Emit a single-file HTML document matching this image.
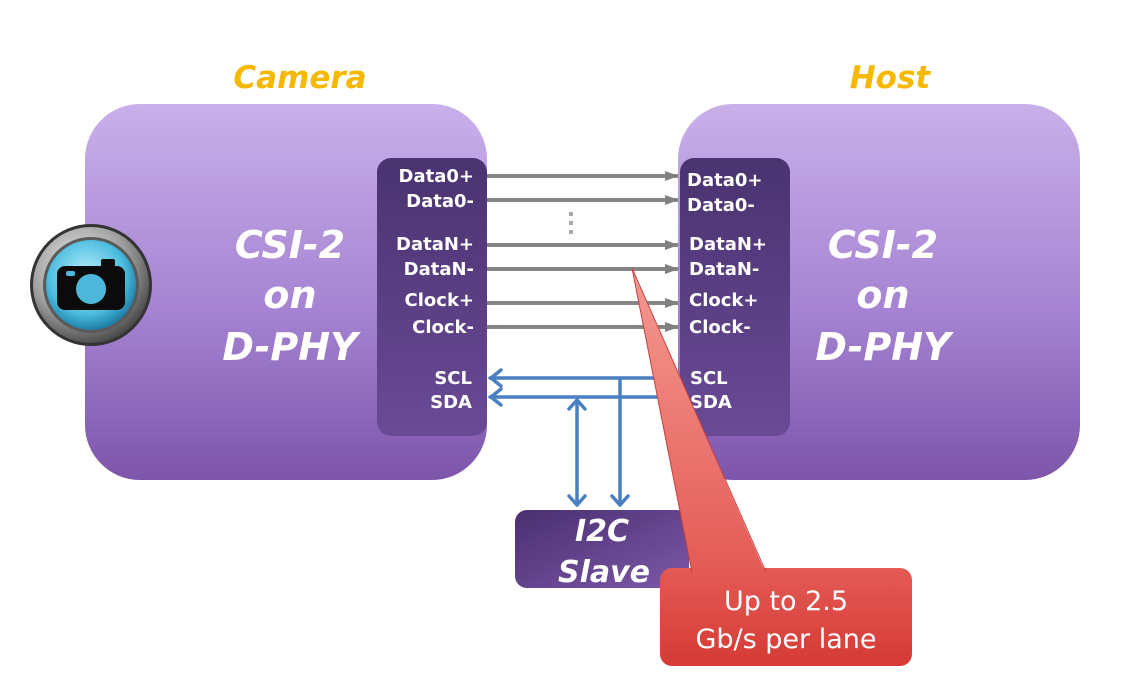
<!DOCTYPE html>
<html><head><meta charset="utf-8"><style>
html,body{margin:0;padding:0;background:#fff;width:1123px;height:697px;overflow:hidden}
svg{display:block}
text{font-family:"DejaVu Sans","Liberation Sans",sans-serif}
</style></head><body>
<svg width="1123" height="697" viewBox="0 0 1123 697" xmlns="http://www.w3.org/2000/svg">
<defs>
<linearGradient id="blk" x1="0" y1="0" x2="0" y2="1">
<stop offset="0" stop-color="#c9b0ea"/><stop offset="0.55" stop-color="#a583d2"/><stop offset="1" stop-color="#7d55aa"/>
</linearGradient>
<linearGradient id="pnl" x1="0" y1="0" x2="0" y2="1">
<stop offset="0" stop-color="#4a3370"/><stop offset="1" stop-color="#6a4a96"/>
</linearGradient>
<linearGradient id="i2c" x1="0" y1="0" x2="1" y2="1">
<stop offset="0" stop-color="#4a2f70"/><stop offset="1" stop-color="#7c58a8"/>
</linearGradient>
<linearGradient id="red" x1="0" y1="0" x2="0" y2="1">
<stop offset="0" stop-color="#e45a55"/><stop offset="1" stop-color="#d63a35"/>
</linearGradient>
<linearGradient id="tri" x1="0" y1="0" x2="0" y2="1">
<stop offset="0" stop-color="#f49a92"/><stop offset="1" stop-color="#e45a55"/>
</linearGradient>
<radialGradient id="lens" cx="0.45" cy="0.4" r="0.6">
<stop offset="0" stop-color="#bdf0fb"/><stop offset="0.7" stop-color="#4dbde0"/><stop offset="1" stop-color="#1e7fa8"/>
</radialGradient>
<radialGradient id="ring" cx="0.4" cy="0.35" r="0.7">
<stop offset="0" stop-color="#f0f0f0"/><stop offset="0.6" stop-color="#a0a0a0"/><stop offset="1" stop-color="#404040"/>
</radialGradient>
<marker id="ga" markerWidth="14" markerHeight="10" refX="13" refY="5" orient="auto" markerUnits="userSpaceOnUse"><path d="M0,0 L14,5 L0,10 z" fill="#808080"/></marker>
</defs>

<text x="300" y="88" font-size="31" font-weight="bold" font-style="italic" fill="#f6b800" text-anchor="middle">Camera</text>
<text x="890" y="88" font-size="31" font-weight="bold" font-style="italic" fill="#f6b800" text-anchor="middle">Host</text>

<rect x="85" y="104" width="402" height="376" rx="55" fill="url(#blk)"/>
<rect x="678" y="104" width="402" height="376" rx="55" fill="url(#blk)"/>
<rect x="377" y="158" width="110" height="278" rx="14" fill="url(#pnl)"/>
<rect x="680" y="158" width="110" height="278" rx="14" fill="url(#pnl)"/>

<g font-size="38" font-weight="bold" font-style="italic" fill="#fff" text-anchor="middle">
<text x="290" y="258">CSI-2</text><text x="290" y="308">on</text><text x="290" y="360">D-PHY</text>
<text x="883" y="258">CSI-2</text><text x="883" y="308">on</text><text x="883" y="360">D-PHY</text>
</g>

<g font-size="18" font-weight="bold" fill="#fff" text-anchor="end">
<text x="474" y="182">Data0+</text><text x="474" y="207">Data0-</text>
<text x="474" y="250">DataN+</text><text x="474" y="275">DataN-</text>
<text x="474" y="306">Clock+</text><text x="474" y="333">Clock-</text>
<text x="472" y="384">SCL</text><text x="472" y="408">SDA</text>
</g>
<g font-size="18" font-weight="bold" fill="#fff">
<text x="687" y="186">Data0+</text><text x="687" y="211">Data0-</text>
<text x="689" y="250">DataN+</text><text x="689" y="275">DataN-</text>
<text x="689" y="306">Clock+</text><text x="689" y="333">Clock-</text>
<text x="690" y="384">SCL</text><text x="690" y="408">SDA</text>
</g>

<g stroke="#858585" stroke-width="4" marker-end="url(#ga)">
<line x1="487" y1="176" x2="678" y2="176"/>
<line x1="487" y1="200" x2="678" y2="200"/>
<line x1="487" y1="245" x2="678" y2="245"/>
<line x1="487" y1="269" x2="678" y2="269"/>
<line x1="487" y1="303" x2="678" y2="303"/>
<line x1="487" y1="327" x2="678" y2="327"/>
</g>
<g fill="#aaa"><rect x="569" y="212" width="4" height="4"/><rect x="569" y="221" width="4" height="4"/><rect x="569" y="230" width="4" height="4"/></g>

<g stroke="#4a7fc1" stroke-width="3.5" fill="none" stroke-linecap="round" stroke-linejoin="round">
<line x1="490" y1="378" x2="662" y2="378"/>
<line x1="490" y1="397" x2="662" y2="397"/>
<polyline points="501,370 491,378 501,386"/>
<polyline points="501,389 491,397 501,405"/>
<line x1="620" y1="378" x2="620" y2="505"/>
<polyline points="612,496 620,505 628,496"/>
<line x1="577" y1="400" x2="577" y2="505"/>
<polyline points="569,409 577,400 585,409"/>
<polyline points="569,496 577,505 585,496"/>
</g>

<rect x="515" y="510" width="174" height="78" rx="12" fill="url(#i2c)"/>
<text x="602" y="541" font-size="30" font-weight="bold" font-style="italic" fill="#fff" text-anchor="middle">I2C</text>
<text x="604" y="582" font-size="30" font-weight="bold" font-style="italic" fill="#fff" text-anchor="middle">Slave</text>

<rect x="660" y="568" width="252" height="98" rx="12" fill="url(#red)"/>
<path d="M632,268 L766,574 L692,574 Z" fill="url(#tri)"/>
<path d="M632,268 L766,572 M632,268 L692,572" stroke="#c84040" stroke-width="1" fill="none"/>
<text x="786" y="610" font-size="27" fill="#fff" text-anchor="middle">Up to 2.5</text>
<text x="786" y="648" font-size="27" fill="#fff" text-anchor="middle">Gb/s per lane</text>

<circle cx="91" cy="285" r="61" fill="#333"/>
<circle cx="91" cy="285" r="58" fill="url(#ring)"/>
<circle cx="91" cy="285" r="48" fill="#5a5a5a"/>
<circle cx="91" cy="285" r="45" fill="url(#lens)"/>
<rect x="57" y="266" width="68" height="44" rx="8" fill="#0b0b0b"/>
<rect x="101" y="259" width="14" height="9" rx="2" fill="#0b0b0b"/>
<circle cx="91" cy="289" r="15" fill="#4db8dc"/>
<rect x="66" y="271" width="9" height="5" rx="2" fill="#4db8dc"/>
</svg>
</body></html>
